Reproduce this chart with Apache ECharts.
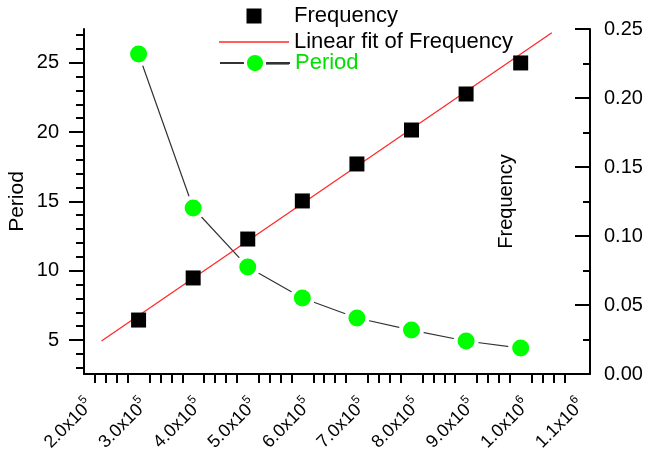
<!DOCTYPE html>
<html>
<head>
<meta charset="utf-8">
<title>Period and Frequency</title>
<script src="https://cdn.jsdelivr.net/npm/echarts@6/dist/echarts.min.js"></script>
<style>
  html, body { margin: 0; padding: 0; background: #ffffff; }
  #chart { width: 648px; height: 453px; }
</style>
</head>
<body>
<div id="chart"></div>
<script>
// Measured points
const drive = [3e5, 4e5, 5e5, 6e5, 7e5, 8e5, 9e5, 1e6];
const period = [25.63, 14.52, 10.27, 8.03, 6.59, 5.72, 4.93, 4.42];
const frequency = [0.0391, 0.0696, 0.0978, 0.1254, 0.1522, 0.1768, 0.2029, 0.2254];

// End points of the fitted straight line
const fitX = [2.32e5, 1.057e6];
const fitY = [0.0239, 0.2473];

// Tick values
const xTicks = [2e5, 3e5, 4e5, 5e5, 6e5, 7e5, 8e5, 9e5, 1e6, 1.1e6];
const periodTicks = [5, 10, 15, 20, 25];

const FONT = 'Liberation Sans, Arial, sans-serif';

// minor ticks on the bottom axis: four between each pair of labelled values
const xMinor = [];
for (let i = 0; i < xTicks.length - 1; i++) {
  const step = (xTicks[i + 1] - xTicks[i]) / 5;
  for (let k = 1; k <= 4; k++) xMinor.push(xTicks[i] + k * step);
}

function sciLabel(v) {
  const e = Math.floor(Math.log10(v) + 1e-9);
  const m = (v / Math.pow(10, e)).toFixed(1);
  return '{m|' + m + 'x10}{e|' + e + '}';
}

// legend layout
const LEG_LEFT = 219;
const LEG_ICON_W = 70;
const PERIOD_TOP = 52;
const PERIOD_ICON_H = 24;

// legend icons: a centred square and a thin bar
const squareIcon = 'path://M0,0L0,0M27.5,0H42.5V15H27.5ZM70,15L70,15';
const barIcon = 'path://M0,0H70V1.3H0Z';

const legendText = { fontFamily: FONT, fontSize: 22, color: '#000' };

const chart = echarts.init(document.getElementById('chart'), null, { renderer: 'canvas' });

chart.setOption({
  animation: false,
  backgroundColor: '#ffffff',
  textStyle: { fontFamily: FONT },
  grid: { left: 84, right: 58, top: 29, bottom: 79, show: false, outerBoundsMode: 'none', containLabel: false },
  legend: [
    {
      data: [{ name: 'Frequency', icon: squareIcon }],
      left: LEG_LEFT, top: 5, padding: 0,
      itemWidth: LEG_ICON_W, itemHeight: 15,
      selectedMode: false,
      textStyle: legendText
    },
    {
      data: [{ name: 'Linear fit of Frequency', icon: barIcon }],
      left: LEG_LEFT, top: 31, padding: 0,
      itemWidth: LEG_ICON_W, itemHeight: 15,
      selectedMode: false,
      textStyle: legendText
    },
    {
      data: [{ name: 'Period', itemStyle: { borderColor: '#ffffff', borderWidth: 3 } }],
      left: LEG_LEFT, top: PERIOD_TOP, padding: 0,
      itemWidth: LEG_ICON_W, itemHeight: PERIOD_ICON_H,
      selectedMode: false,
      textStyle: { fontFamily: FONT, fontSize: 22, color: '#00e000' }
    }
  ],
  // trailing half of the Period legend line
  graphic: [{
    type: 'line',
    silent: true,
    z: 100,
    shape: {
      x1: LEG_LEFT + 47, y1: PERIOD_TOP + PERIOD_ICON_H / 2,
      x2: LEG_LEFT + LEG_ICON_W, y2: PERIOD_TOP + PERIOD_ICON_H / 2
    },
    style: { stroke: '#333', lineWidth: 1.2 }
  }],
  xAxis: {
    type: 'value',
    min: 2e5,
    max: 1.127e6,
    splitLine: { show: false },
    axisLine: { show: true, onZero: false, lineStyle: { color: '#000', width: 2 } },
    axisTick: {
      show: true,
      customValues: xMinor,
      length: 9,
      lineStyle: { color: '#000', width: 2 }
    },
    axisLabel: {
      customValues: xTicks,
      rotate: 45,
      margin: 22,
      padding: [14, 0, 0, 0],
      color: '#000',
      formatter: sciLabel,
      rich: {
        m: { fontFamily: FONT, fontSize: 18, color: '#000', lineHeight: 22, padding: [5, 0, 0, 0], verticalAlign: 'bottom' },
        e: { fontFamily: FONT, fontSize: 12, color: '#000', lineHeight: 12, verticalAlign: 'top' }
      }
    }
  },
  yAxis: [
    {
      type: 'value',
      position: 'left',
      min: 2.55,
      max: 27.43,
      splitNumber: 5,
      name: 'Period',
      nameLocation: 'middle',
      nameRotate: 90,
      nameGap: 56,
      nameMoveOverlap: false,
      nameTextStyle: { fontFamily: FONT, fontSize: 21, color: '#000' },
      splitLine: { show: false },
      axisLine: { show: true, onZero: false, lineStyle: { color: '#000', width: 2 } },
      axisTick: {
        show: true,
        customValues: periodTicks,
        length: 15,
        lineStyle: { color: '#000', width: 2 }
      },
      minorTick: { show: true, splitNumber: 5, length: 8, lineStyle: { color: '#000', width: 2 } },
      axisLabel: {
        customValues: periodTicks,
        margin: 25,
        fontFamily: FONT, fontSize: 20, color: '#000'
      }
    },
    {
      type: 'value',
      position: 'right',
      min: 0,
      max: 0.25,
      interval: 0.05,
      name: 'Frequency',
      nameLocation: 'middle',
      nameRotate: 90,
      nameGap: -94,
      nameMoveOverlap: false,
      nameTextStyle: { fontFamily: FONT, fontSize: 20, color: '#000' },
      splitLine: { show: false },
      axisLine: { show: true, onZero: false, lineStyle: { color: '#000', width: 2 } },
      axisTick: { show: true, inside: true, length: 15, lineStyle: { color: '#000', width: 2 } },
      minorTick: { show: true, splitNumber: 2, length: 7, lineStyle: { color: '#000', width: 2 } },
      axisLabel: {
        margin: 14,
        fontFamily: FONT, fontSize: 20, color: '#000',
        formatter: v => v.toFixed(2)
      }
    }
  ],
  series: [
    {
      name: 'Period',
      type: 'line',
      yAxisIndex: 0,
      data: drive.map((x, i) => [x, period[i]]),
      symbol: 'circle',
      symbolSize: 21,
      lineStyle: { color: '#333', width: 1.2 },
      itemStyle: { color: '#00ff00', borderColor: '#ffffff', borderWidth: 4 },
      z: 2
    },
    {
      name: 'Linear fit of Frequency',
      type: 'line',
      yAxisIndex: 1,
      data: fitX.map((x, i) => [x, fitY[i]]),
      symbol: 'none',
      lineStyle: { color: '#ff2a2a', width: 1.3 },
      itemStyle: { color: '#ff2a2a' },
      z: 3
    },
    {
      name: 'Frequency',
      type: 'scatter',
      yAxisIndex: 1,
      data: drive.map((x, i) => [x, frequency[i]]),
      symbol: 'rect',
      symbolSize: 15,
      itemStyle: { color: '#000', opacity: 1 },
      z: 4
    }
  ]
});
</script>
</body>
</html>
